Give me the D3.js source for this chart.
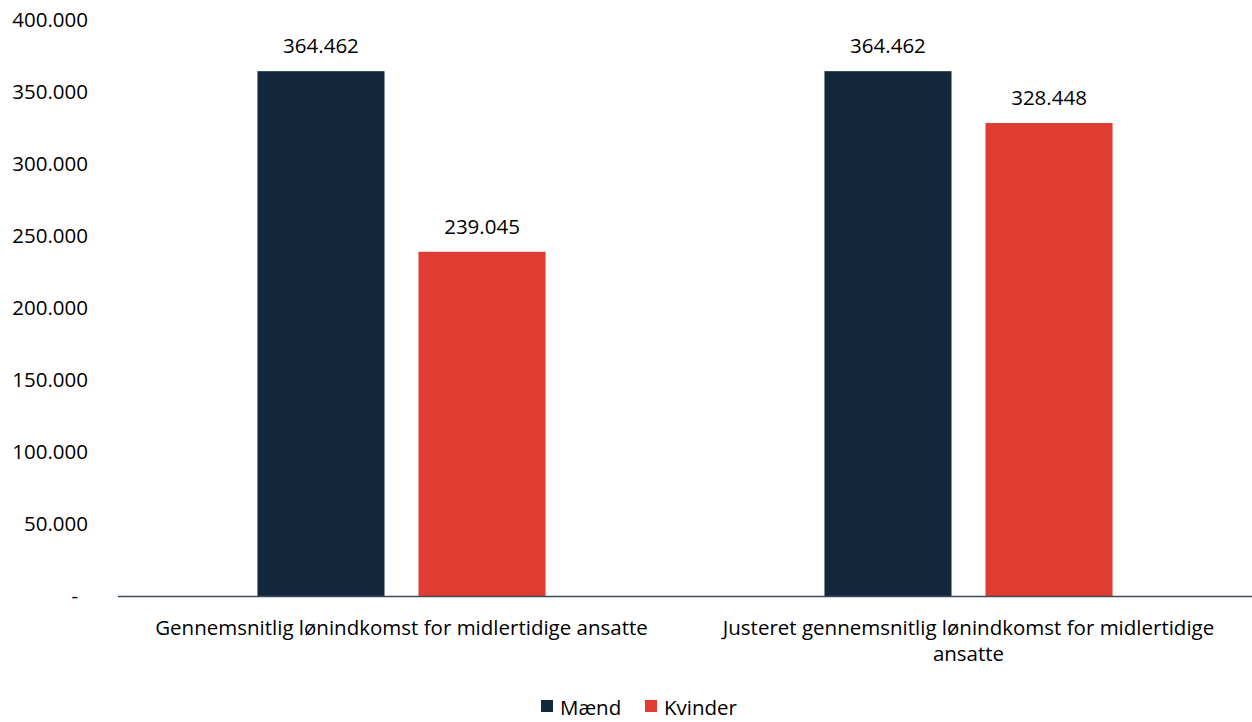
<!DOCTYPE html>
<html><head><meta charset="utf-8">
<script src="https://cdn.jsdelivr.net/npm/d3@7"></script>
<style>
html,body{margin:0;padding:0;background:#fff;}
svg text{font-family:"Open Sans",sans-serif;fill:#000;}
</style></head>
<body>
<svg id="c" width="1252" height="722"></svg>
<script>
const categories = [
  ["Gennemsnitlig lønindkomst for midlertidige ansatte"],
  ["Justeret gennemsnitlig lønindkomst for midlertidige", "ansatte"]
];
const seriesNames = ["Mænd", "Kvinder"];
const maend = [364462, 364462];
const kvinder = [239045, 328448];
const yTicks = [0, 50000, 100000, 150000, 200000, 250000, 300000, 350000, 400000];
const colors = ["#13283D", "#E03C31"];

(function () {
const svg = d3.select("#c");
const mLeft = 118, mRight = 1252, mTop = 20, mBottom = 596;
const fs = "20.5px";
const fmt = v => v === 0 ? "-" : d3.format(",")(v).replace(/,/g, ".");

const x0 = d3.scaleBand().domain(d3.range(categories.length)).range([mLeft, mRight]).paddingInner(0).paddingOuter(0);
const x1 = d3.scaleBand().domain(seriesNames).range([0, x0.bandwidth()]).paddingInner(0.211).paddingOuter(0.866);
const y = d3.scaleLinear().domain([0, 400000]).range([mBottom, mTop]);

svg.append("g").selectAll("text").data(yTicks).join("text")
  .attr("x", d => d === 0 ? 78 : 88)
  .attr("y", d => y(d))
  .attr("dy", "0.35em")
  .attr("text-anchor", "end")
  .style("font-size", fs)
  .text(fmt);

const data = categories.map((c, i) => ({i, vals: [maend[i], kvinder[i]]}));
const g = svg.append("g").selectAll("g").data(data).join("g")
  .attr("transform", d => `translate(${x0(d.i)},0)`);
g.selectAll("rect").data(d => d.vals.map((v, k) => ({v, k}))).join("rect")
  .attr("x", d => x1(seriesNames[d.k]))
  .attr("width", x1.bandwidth())
  .attr("y", d => y(d.v))
  .attr("height", d => y(0) - y(d.v))
  .attr("fill", d => colors[d.k]);
g.selectAll("text.v").data(d => d.vals.map((v, k) => ({v, k}))).join("text")
  .attr("class", "v")
  .attr("x", d => x1(seriesNames[d.k]) + x1.bandwidth() / 2)
  .attr("y", d => y(d.v) - 18)
  .attr("text-anchor", "middle")
  .style("font-size", fs)
  .text(d => fmt(d.v));

svg.append("line").attr("x1", mLeft).attr("x2", mRight).attr("y1", y(0) + 0.5).attr("y2", y(0) + 0.5)
  .attr("stroke", "#3A4A5A").attr("stroke-width", 1.5);

categories.forEach((lines, i) => {
  lines.forEach((t, j) => {
    svg.append("text")
      .attr("x", x0(i) + x0.bandwidth() / 2)
      .attr("y", 635 + j * 26)
      .attr("text-anchor", "middle")
      .style("font-size", fs)
      .text(t);
  });
});

const legX = [541, 645];
const leg = svg.append("g");
seriesNames.forEach((n, k) => {
  leg.append("rect").attr("x", legX[k]).attr("y", 700).attr("width", 12).attr("height", 12).attr("fill", colors[k]);
  leg.append("text").attr("x", legX[k] + 19).attr("y", 715).style("font-size", fs).text(n);
});
})();
</script>
</body></html>
